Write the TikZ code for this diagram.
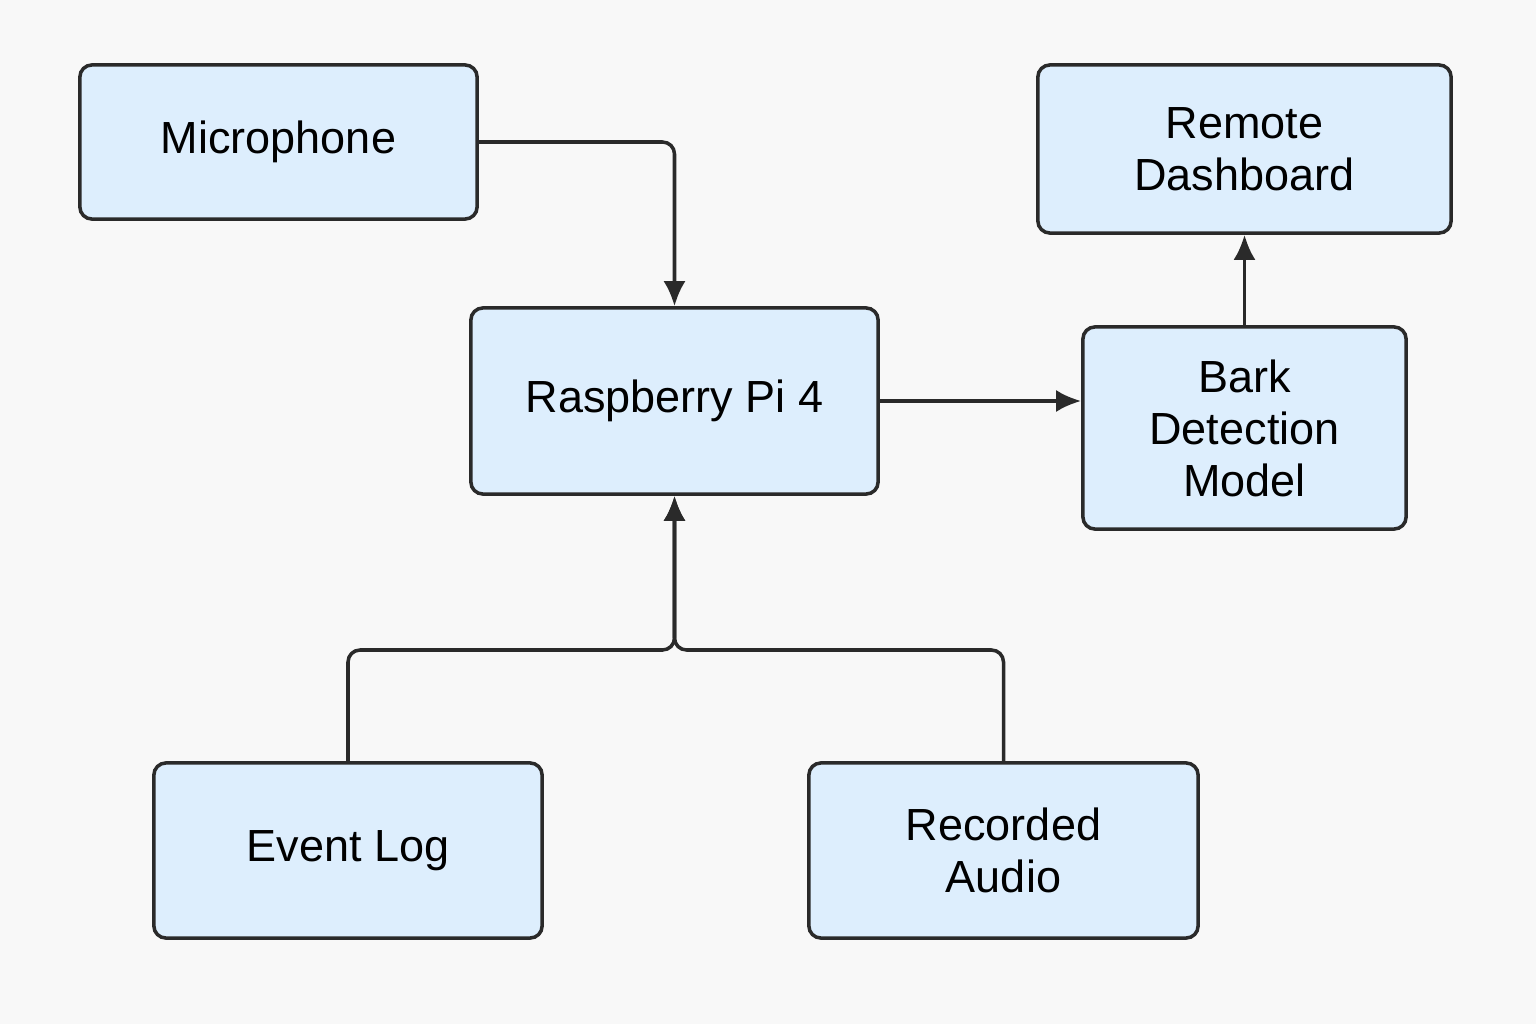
\documentclass[tikz,border=0pt]{standalone}
\usepackage{fontspec}
\setmainfont{Liberation Sans}
\usetikzlibrary{arrows.meta}

\definecolor{boxfill}{HTML}{DDEEFD}
\definecolor{boxline}{HTML}{2A2A2A}
\definecolor{pagebg}{HTML}{F8F8F8}

\begin{document}
\begin{tikzpicture}
        [
            x = 0.01cm, y = -0.01cm,
            block/.style = {draw = boxline, fill = boxfill, line width = 1pt,
                    rounded corners = 0.12cm, align = center, inner sep = 0pt,
                    font = \fontsize{12.8pt}{14.8pt}\selectfont},
            conn/.style = {draw = boxline, line width = 1pt, rounded corners = 0.12cm,
                    -{Latex[length = 0.25cm, width = 0.22cm]}},
        ]

        \fill[pagebg] (0,0) rectangle (1536,1024);

        \node[block, minimum width = 3.97cm, minimum height = 1.54cm] (mic) at (278.5,142) {Microphone};
        \node[block, minimum width = 4.13cm, minimum height = 1.68cm] (dash) at (1244.5,149) {Remote\\Dashboard};
        \node[block, minimum width = 4.07cm, minimum height = 1.86cm] (pi) at (674.5,401) {Raspberry Pi 4};
        \node[block, minimum width = 3.23cm, minimum height = 2.02cm] (bark) at (1244.5,428) {Bark\\Detection\\Model};
        \node[block, minimum width = 3.88cm, minimum height = 1.75cm] (log) at (348,850.5) {Event Log};
        \node[block, minimum width = 3.89cm, minimum height = 1.75cm] (audio) at (1003.5,850.5) {Recorded\\Audio};

        \coordinate (merge) at (674.5,650);

        \draw[conn] (mic.east) -| (pi.north);
        \draw[conn] (pi.east) -- (pi.east -| bark.west);
        \draw[conn] (bark.north) -- (dash.south);
        \draw[conn] (log.north) |- (merge) -- (pi.south);
        \draw[conn] (audio.north) |- (merge) -- (pi.south);

    \end{tikzpicture}
\end{document}
